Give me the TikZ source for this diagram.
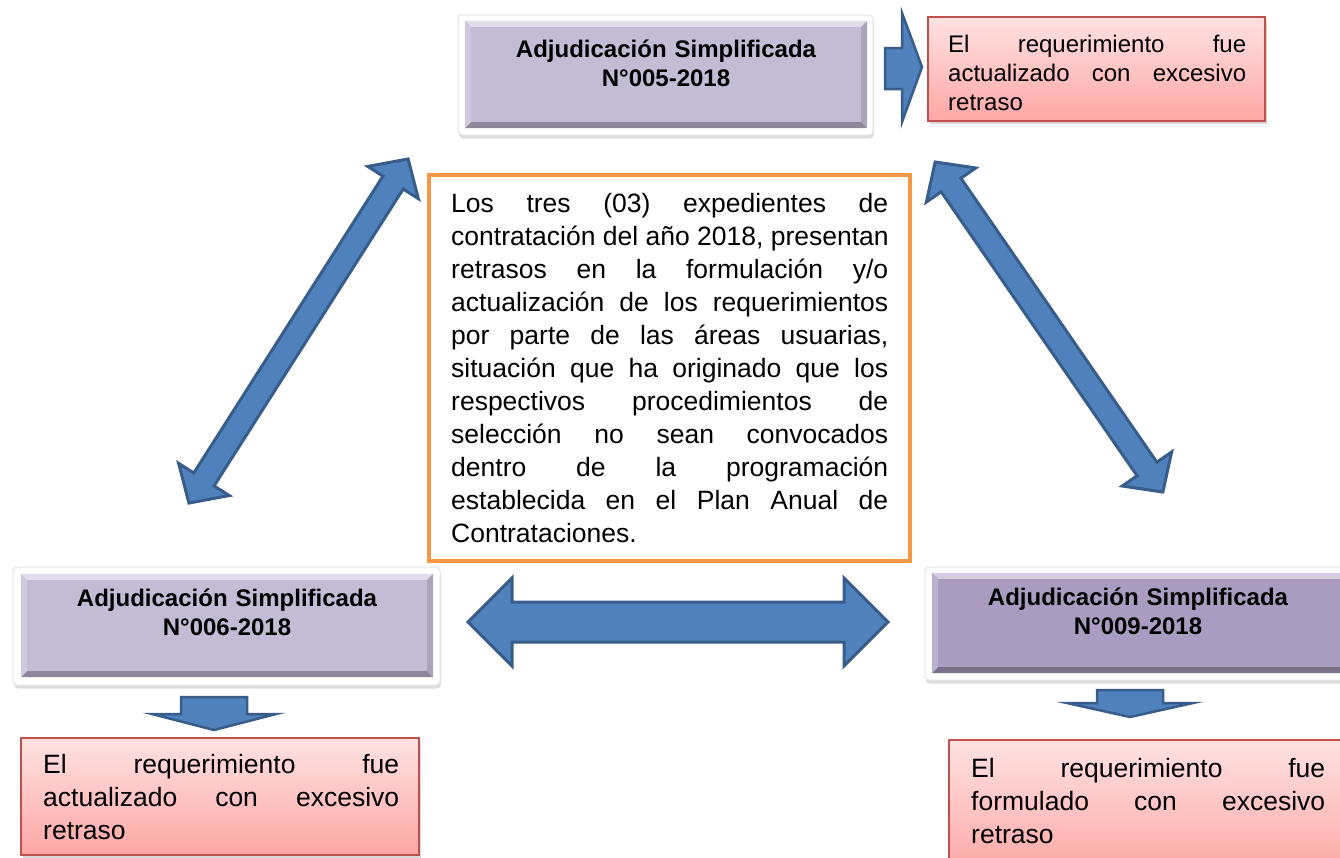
\documentclass[tikz,border=0pt]{standalone}
\usepackage{fontspec}
\setmainfont{Liberation Sans}
\usetikzlibrary{shadows,calc}
\definecolor{arrowblue}{RGB}{79,129,189}
\definecolor{arrowedge}{RGB}{56,93,138}
\definecolor{lav}{RGB}{196,187,213}
\definecolor{lavdark}{RGB}{170,156,192}
\definecolor{redtop}{RGB}{255,226,226}
\definecolor{redbot}{RGB}{255,166,166}
\definecolor{rededge}{RGB}{192,80,77}
\definecolor{orng}{RGB}{247,150,70}
\newcommand{\bodyfont}{\fontsize{26.5}{33}\selectfont}
\newcommand{\smallbody}{\fontsize{24}{29}\selectfont}
\newcommand{\titlefont}{\fontsize{24}{29.5}\selectfont\bfseries}
\newcommand{\jl}[2]{\leavevmode\hbox to #1{\spaceskip=\fontdimen2\font plus 1fill\relax #2}}
\newcommand{\dblarrow}[4]{%
  \filldraw[blockarrow] (#1,0) -- ({#1-#2},#3) -- ({#1-#2},#4) -- ({-#1+#2},#4) -- ({-#1+#2},#3) -- ({-#1},0) -- ({-#1+#2},-#3) -- ({-#1+#2},-#4) -- ({#1-#2},-#4) -- ({#1-#2},-#3) -- cycle;}
\newcommand{\bevelit}[2]{%
  \fill[#2!50!white] (#1.north west) -- (#1.north east) -- ([shift={(-6,6)}]#1.north east) -- ([shift={(6,6)}]#1.north west) -- cycle;
  \fill[#2!72!black] (#1.south west) -- (#1.south east) -- ([shift={(-6,-6)}]#1.south east) -- ([shift={(6,-6)}]#1.south west) -- cycle;
  \fill[#2!80!white] (#1.north west) -- ([shift={(6,6)}]#1.north west) -- ([shift={(6,-6)}]#1.south west) -- (#1.south west) -- cycle;
  \fill[#2!88!black] (#1.north east) -- ([shift={(-6,6)}]#1.north east) -- ([shift={(-6,-6)}]#1.south east) -- (#1.south east) -- cycle;}
\tikzset{
  blockarrow/.style={fill=arrowblue, draw=arrowedge, line width=3pt, line join=miter},
  smallarrow/.style={fill=arrowblue, draw=arrowedge, line width=2.5pt, line join=miter},
  framebox/.style={fill=white, draw=black!10, line width=1pt, rounded corners=4pt, inner sep=0pt,
    drop shadow={opacity=0.22, shadow xshift=1pt, shadow yshift=-3.5pt, fill=black!60}},
  purplebox/.style={fill=#1, draw=none, inner sep=0pt},
  redbox/.style={top color=redtop, bottom color=redbot, draw=rededge, line width=1.5pt, inner sep=0pt,
    drop shadow={opacity=0.25, shadow xshift=1.5pt, shadow yshift=-3pt, fill=black!60}},
  orangebox/.style={fill=white, draw=orng, line width=4pt, inner sep=0pt},
  titletext/.style={anchor=base, align=center, inner sep=0pt, font=\titlefont, text width=400pt},
  jtext/.style={anchor=base west, inner sep=0pt, align=left}
}
\begin{document}
\begin{tikzpicture}[x=1pt,y=-1pt]
\useasboundingbox (0,0) rectangle (1340,857);
\clip (0,0) rectangle (1340,857);
\fill[white] (0,0) rectangle (1340,857);

% central box
\node[orangebox, minimum width=481pt, minimum height=386pt] (mid) at (669.5,368) {};
\node[jtext, text width=437pt, font=\bodyfont] (midtext) at (451,212) {%
\jl{437pt}{Los tres (03) expedientes de}\\
\jl{437pt}{contratación del año 2018, presentan}\\
\jl{437pt}{retrasos en la formulación y/o}\\
\jl{437pt}{actualización de los requerimientos}\\
\jl{437pt}{por parte de las áreas usuarias,}\\
\jl{437pt}{situación que ha originado que los}\\
\jl{437pt}{respectivos procedimientos de}\\
\jl{437pt}{selección no sean convocados}\\
\jl{437pt}{dentro de la programación}\\
\jl{437pt}{establecida en el Plan Anual de}\\
Contrataciones.};

% top box
\node[framebox, minimum width=415pt, minimum height=120pt] (topframe) at (665.5,75) {};
\node[purplebox=lav, minimum width=402pt, minimum height=107pt] (topbox) at (666,74.5) {};
\bevelit{topbox}{lav}
\node[titletext] (toptitle) at (666,57) {Adjudicación Simplificada\\N°005-2018};

% bottom left box
\node[framebox, minimum width=427pt, minimum height=118pt] (blframe) at (226.5,626) {};
\node[purplebox=lav, minimum width=412pt, minimum height=103pt] (blbox) at (227,625.5) {};
\bevelit{blbox}{lav}
\node[titletext] (bltitle) at (227,606) {Adjudicación Simplificada\\N°006-2018};

% bottom right box
\node[framebox, minimum width=428pt, minimum height=113pt] (brframe) at (1139,623.5) {};
\node[purplebox=lavdark, minimum width=414pt, minimum height=100pt] (brbox) at (1139,623) {};
\bevelit{brbox}{lavdark}
\node[titletext] (brtitle) at (1138,605) {Adjudicación Simplificada\\N°009-2018};

% red boxes
\node[redbox, minimum width=337pt, minimum height=104pt] (trred) at (1096.5,69) {};
\node[jtext, text width=298pt, font=\smallbody] (trtext) at (948,52) {%
\jl{298pt}{El requerimiento fue}\\
\jl{298pt}{actualizado con excesivo}\\
retraso};

\node[redbox, minimum width=398pt, minimum height=117pt] (blred) at (220,796.5) {};
\node[jtext, text width=356pt, font=\bodyfont] (bltext) at (43,773) {%
\jl{356pt}{El requerimiento fue}\\
\jl{356pt}{actualizado con excesivo}\\
retraso};

\node[redbox, minimum width=401pt, minimum height=135pt] (brred) at (1149.5,807.5) {};
\node[jtext, text width=354pt, font=\bodyfont] (brtext) at (971,777) {%
\jl{354pt}{El requerimiento fue}\\
\jl{354pt}{formulado con excesivo}\\
retraso};

% block arrows
\begin{scope}[shift={(298.5,331)},rotate=57.5]
  \dblarrow{204}{28}{30}{12}
\end{scope}
\begin{scope}[shift={(1049,327)},rotate=-55.4]
  \dblarrow{200.5}{28}{30}{12}
\end{scope}
\begin{scope}[shift={(678,622)}]
  \dblarrow{210}{44}{44}{20}
\end{scope}
\filldraw[smallarrow] (885,48) -- (902,48) -- (902,13) -- (922,67) -- (902,122) -- (902,89) -- (885,89) -- cycle;
\filldraw[smallarrow] (181,697) -- (247,697) -- (247,714) -- (276,714) -- (214,730) -- (152,714) -- (181,714) -- cycle;
\filldraw[smallarrow] (1097,690) -- (1163,690) -- (1163,703) -- (1193,703) -- (1130,717) -- (1067,703) -- (1097,703) -- cycle;
\end{tikzpicture}
\end{document}
